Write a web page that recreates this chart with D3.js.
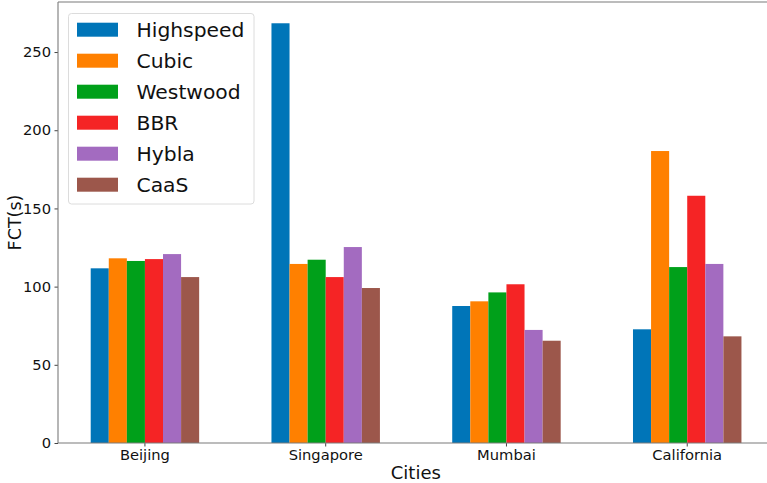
<!DOCTYPE html>
<html><head><meta charset="utf-8">
<script src="https://cdn.jsdelivr.net/npm/d3@7"></script>
<style>html,body{margin:0;padding:0;background:#fff;overflow:hidden}svg{display:block}</style>
</head><body>
<script>
const cities = ["Beijing", "Singapore", "Mumbai", "California"];
const series = ["Highspeed", "Cubic", "Westwood", "BBR", "Hybla", "CaaS"];
const colors = ["#0075b8", "#ff8000", "#00a01a", "#f52425", "#a36bc0", "#9c574b"];
const highspeed = [111.7, 268.4, 87.6, 72.7];
const cubic     = [118.1, 114.5, 90.6, 186.7];
const westwood  = [116.4, 117.2, 96.3, 112.5];
const bbr       = [117.6, 106.1, 101.5, 158.1];
const hybla     = [120.8, 125.3, 72.3, 114.5];
const caas      = [106.1, 99.1, 65.4, 68.2];
const values = [highspeed, cubic, westwood, bbr, hybla, caas];
const yTicks = [0, 50, 100, 150, 200, 250];

(function () {
const W = 767, H = 483;
const pLeft = 58, pTop = 2, pBottom = 443, pRight = 774;
const svg = d3.select("body").append("svg").attr("width", W).attr("height", H)
  .style("font-family", "'DejaVu Sans', sans-serif");

const x0 = d3.scaleBand().domain(cities).range([54.55, 777.6]).paddingInner(0.4).paddingOuter(0.2);
const x1 = d3.scaleBand().domain(series).range([0, x0.bandwidth()]);
const y = d3.scaleLinear().domain([0, 282]).range([pBottom, pTop]);

// bars
series.forEach((s, i) => {
  svg.append("g").selectAll("rect").data(cities).join("rect")
    .attr("x", c => x0(c) + x1(s))
    .attr("width", x1.bandwidth())
    .attr("y", (c, j) => y(values[i][j]))
    .attr("height", (c, j) => pBottom - y(values[i][j]))
    .attr("fill", colors[i]);
});

// y axis
const yAxis = svg.append("g").attr("transform", `translate(${pLeft},0)`)
  .call(d3.axisLeft(y).tickValues(yTicks).tickSize(3.5).tickPadding(3.5));
yAxis.select(".domain").remove();
yAxis.selectAll("line").attr("stroke", "#444");
yAxis.selectAll("text").attr("font-size", 14.7).attr("fill", "#111").style("font-family", "'DejaVu Sans', sans-serif");

// x axis
const xAxis = svg.append("g").attr("transform", `translate(0,${pBottom})`)
  .call(d3.axisBottom(x0).tickSize(3.5).tickPadding(3));
xAxis.select(".domain").remove();
xAxis.selectAll("line").attr("stroke", "#444");
xAxis.selectAll("text").attr("font-size", 14.7).attr("fill", "#111").style("font-family", "'DejaVu Sans', sans-serif");

// spines
const sp = svg.append("g").attr("stroke", "#7a7a7a").attr("stroke-width", 1.1).attr("fill", "none");
sp.append("line").attr("x1", pLeft).attr("x2", pLeft).attr("y1", pTop).attr("y2", pBottom);
sp.append("line").attr("x1", pLeft).attr("x2", pRight).attr("y1", pBottom).attr("y2", pBottom);
sp.append("line").attr("x1", pLeft).attr("x2", pRight).attr("y1", pTop).attr("y2", pTop);

// axis labels
svg.append("text").attr("x", (391.7 + 440) / 2).attr("y", 479).attr("text-anchor", "middle")
  .attr("font-size", 18).attr("fill", "#111").text("Cities");
svg.append("text").attr("transform", `translate(21,${(pTop + pBottom) / 2}) rotate(-90)`)
  .attr("text-anchor", "middle").attr("font-size", 17.5).attr("fill", "#111").text("FCT(s)");

// legend
const lg = svg.append("g");
lg.append("rect").attr("x", 68.5).attr("y", 13.5).attr("width", 185.5).attr("height", 190.5)
  .attr("rx", 3).attr("fill", "#fff").attr("fill-opacity", 0.8).attr("stroke", "#dcdcdc");
series.forEach((s, i) => {
  const cy = 29.7 + i * 31;
  lg.append("rect").attr("x", 77).attr("y", cy - 7).attr("width", 41).attr("height", 14).attr("fill", colors[i]);
  lg.append("text").attr("x", 136.5).attr("y", cy).attr("dy", "0.36em")
    .attr("font-size", 20.3).attr("fill", "#111").text(s);
});
})();
</script>
</body></html>
